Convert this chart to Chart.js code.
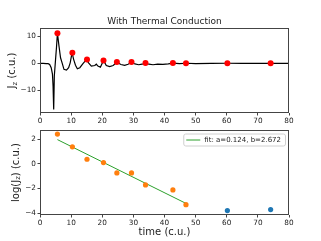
<!DOCTYPE html>
<html><head><meta charset="utf-8">
<script src="https://cdn.jsdelivr.net/npm/chart.js@4"></script>
<style>
html,body{margin:0;padding:0;background:#fff;width:321px;height:241px;overflow:hidden}
canvas{position:absolute;left:0}
#top{top:0}
#bot{top:122px}
</style></head><body>
<canvas id="top" width="321" height="130"></canvas>
<canvas id="bot" width="321" height="119"></canvas>
<script>
const FONT = 'DejaVu Sans'
const INK = '#222'
const SPINE = '#444'

// J_z(t) trace
const curveT = [0, 1, 2, 2.6, 3.1, 3.6, 4.0, 4.2, 4.4, 4.6, 5.0, 5.3, 5.6, 6.1, 6.6, 7.1, 7.7, 8.5, 9.2, 9.7,
  10.3, 10.8, 11.4, 12.0, 12.8, 13.8, 14.9, 15.6, 16.5, 17.6, 18.1, 18.6, 19.4, 20.4, 21.3, 22.4, 23.5, 24.7,
  26.0, 27.2, 28.3, 29.4, 30.5, 31.7, 32.8, 33.9, 35.0, 36.3, 37.8, 39.5, 41.2, 42.8, 44.8, 47.1, 50, 55,
  60.3, 65, 70, 74.1, 80]
const curveJ = [0, 0, -0.1, -0.1, -0.4, -1.6, -4, -8.5, -17.2, -4.7, 1.5, 6, 11.3, 6.5, 2.1, 0.2, -2.2, -2.5, -1.6, 0.2,
  4.0, 1.5, -0.7, -2.0, -1.6, -0.1, 1.4, 0.2, -1.0, -0.8, -0.3, -1.0, -1.4, 1.1, -0.8, -1.2, -0.8, 0.4,
  -0.4, -0.7, -0.3, 0.4, -0.2, -0.5, -0.3, 0.1, -0.3, -0.5, -0.3, -0.4, -0.2, 0.1, -0.1, 0.05, -0.05, 0.0,
  0.05, 0.0, 0.0, 0.0, 0.0]

// peaks
const peakT = [5.6, 10.4, 15.1, 20.4, 24.7, 29.4, 33.9, 42.7, 46.9, 60.2, 74.1]
const peakJ = [11.25, 4.0, 1.46, 1.12, 0.48, 0.48, 0.18, 0.12, 0.04, 0.02, 0.025]

// log of peaks used in the fit / left out of it
const fitPtsT = [5.6, 10.4, 15.1, 20.4, 24.7, 29.4, 33.9, 42.7, 46.9]
const fitPtsLog = [2.42, 1.39, 0.38, 0.11, -0.73, -0.73, -1.70, -2.11, -3.30]
const restT = [60.2, 74.1]
const restLog = [-3.78, -3.70]
const fitLineT = [5.6, 46.9]
const fitLineLog = [1.97, -3.2]
const fitLabel = 'fit: a=0.124, b=2.672'

const xTicks = [0, 10, 20, 30, 40, 50, 60, 70, 80]
const topYTicks = [-10, 0, 10]
const botYTicks = [-4, -2, 0, 2]

const pts = (xs, ys) => xs.map((x, i) => ({ x, y: ys[i] }))
const minus = v => String(v).replace('-', '\u2212')

// frame, title, rotated y label with subscript, legend box
const decor = {
  id: 'decor',
  afterDraw(chart, args, o) {
    const { ctx, chartArea: a } = chart
    ctx.save()
    ctx.strokeStyle = SPINE
    ctx.lineWidth = 1
    ctx.strokeRect(a.left + 0.5, a.top + 0.5, a.width - 1, a.height - 1)
    ctx.fillStyle = INK
    if (o.title) {
      ctx.font = `9px "${FONT}"`
      ctx.textAlign = 'center'
      ctx.textBaseline = 'middle'
      ctx.fillText(o.title, (a.left + a.right) / 2, o.titleY)
    }
    if (o.ylabel) {
      ctx.translate(o.ylabelX, (a.top + a.bottom) / 2)
      ctx.rotate(-Math.PI / 2)
      ctx.textBaseline = 'middle'
      ctx.textAlign = 'left'
      const fonts = [`10px "${FONT}"`, `7px "${FONT}"`]
      let w = 0
      o.ylabel.forEach(([s, sub]) => { ctx.font = fonts[sub]; w += ctx.measureText(s).width })
      let x = -w / 2
      o.ylabel.forEach(([s, sub]) => {
        ctx.font = fonts[sub]
        ctx.fillText(s, x, sub ? 2.5 : 0)
        x += ctx.measureText(s).width
      })
      ctx.setTransform(1, 0, 0, 1, 0, 0)
    }
    if (o.xlabel) {
      ctx.font = `10px "${FONT}"`
      ctx.textAlign = 'center'
      ctx.textBaseline = 'middle'
      ctx.fillText(o.xlabel, (a.left + a.right) / 2, o.xlabelY)
    }
    if (o.legend) {
      const ds = chart.data.datasets[0]
      ctx.font = `7px "${FONT}"`
      const tw = ctx.measureText(ds.label).width
      const w = tw + 25, h = 12
      const x0 = a.right - 4 - w, y0 = a.top + 3.5
      ctx.fillStyle = 'rgba(255,255,255,0.8)'
      ctx.strokeStyle = '#d0d0d0'
      ctx.beginPath()
      ctx.roundRect(x0 + 0.5, y0 + 0.5, w, h, 2)
      ctx.fill(); ctx.stroke()
      ctx.strokeStyle = ds.borderColor
      ctx.lineWidth = ds.borderWidth
      ctx.beginPath()
      ctx.moveTo(x0 + 3, y0 + h / 2 + 0.5); ctx.lineTo(x0 + 17, y0 + h / 2 + 0.5)
      ctx.stroke()
      ctx.fillStyle = INK
      ctx.textAlign = 'left'
      ctx.textBaseline = 'middle'
      ctx.fillText(ds.label, x0 + 21, y0 + h / 2 + 0.5)
    }
    ctx.restore()
  }
}

function axis(extra) {
  return Object.assign({
    type: 'linear',
    border: { display: false },
    grid: { drawOnChartArea: false, drawTicks: true, tickLength: 2.5, color: SPINE, tickWidth: 1 },
    ticks: { font: { family: FONT, size: 7.3 }, color: INK, padding: 1.5, callback: minus, maxRotation: 0, autoSkip: false },
  }, extra)
}

const xAxis = h => axis({
  min: 0, max: 80,
  afterBuildTicks: s => { s.ticks = xTicks.map(value => ({ value })) },
  afterFit: s => { s.height = h },
})

const yAxis = (min, max, ticks) => axis({
  min, max,
  afterBuildTicks: s => { s.ticks = ticks.map(value => ({ value })) },
  afterFit: s => { s.width = 40 },
})

const common = { responsive: false, animation: false, devicePixelRatio: 1 }

new Chart(document.getElementById('top'), {
  type: 'scatter',
  data: {
    datasets: [
      { data: pts(curveT, curveJ), showLine: true, borderColor: '#000', borderWidth: 1.2, pointRadius: 0, order: 2 },
      { data: pts(peakT, peakJ), backgroundColor: '#ff0000', borderWidth: 0, pointRadius: 3, order: 1 },
    ],
  },
  options: {
    ...common,
    layout: { padding: { left: 0, right: 32, top: 28, bottom: 0 } },
    plugins: {
      legend: { display: false }, tooltip: { enabled: false },
      decor: { title: 'With Thermal Conduction', titleY: 22, ylabel: [['J', 0], ['z', 1], [' (c.u.)', 0]], ylabelX: 12.5 },
    },
    scales: { x: xAxis(17), y: yAxis(-18.5, 13.2, topYTicks) },
  },
  plugins: [decor],
})

new Chart(document.getElementById('bot'), {
  type: 'scatter',
  data: {
    datasets: [
      { label: fitLabel, data: pts(fitLineT, fitLineLog), showLine: true, borderColor: '#2ca02c', borderWidth: 1, pointRadius: 0, order: 3 },
      { data: pts(fitPtsT, fitPtsLog), backgroundColor: '#ff7f0e', borderWidth: 0, pointRadius: 2.6, order: 1 },
      { data: pts(restT, restLog), backgroundColor: '#1f77b4', borderWidth: 0, pointRadius: 2.6, order: 2 },
    ],
  },
  options: {
    ...common,
    layout: { padding: { left: 0, right: 32, top: 8, bottom: 0 } },
    plugins: {
      legend: { display: false }, tooltip: { enabled: false },
      decor: { ylabel: [['log(J', 0], ['z', 1], [') (c.u.)', 0]], ylabelX: 16, xlabel: 'time (c.u.)', xlabelY: 110.5, legend: true },
    },
    scales: { x: xAxis(26), y: yAxis(-4.14, 2.75, botYTicks) },
  },
  plugins: [decor],
})
</script>
</body></html>
